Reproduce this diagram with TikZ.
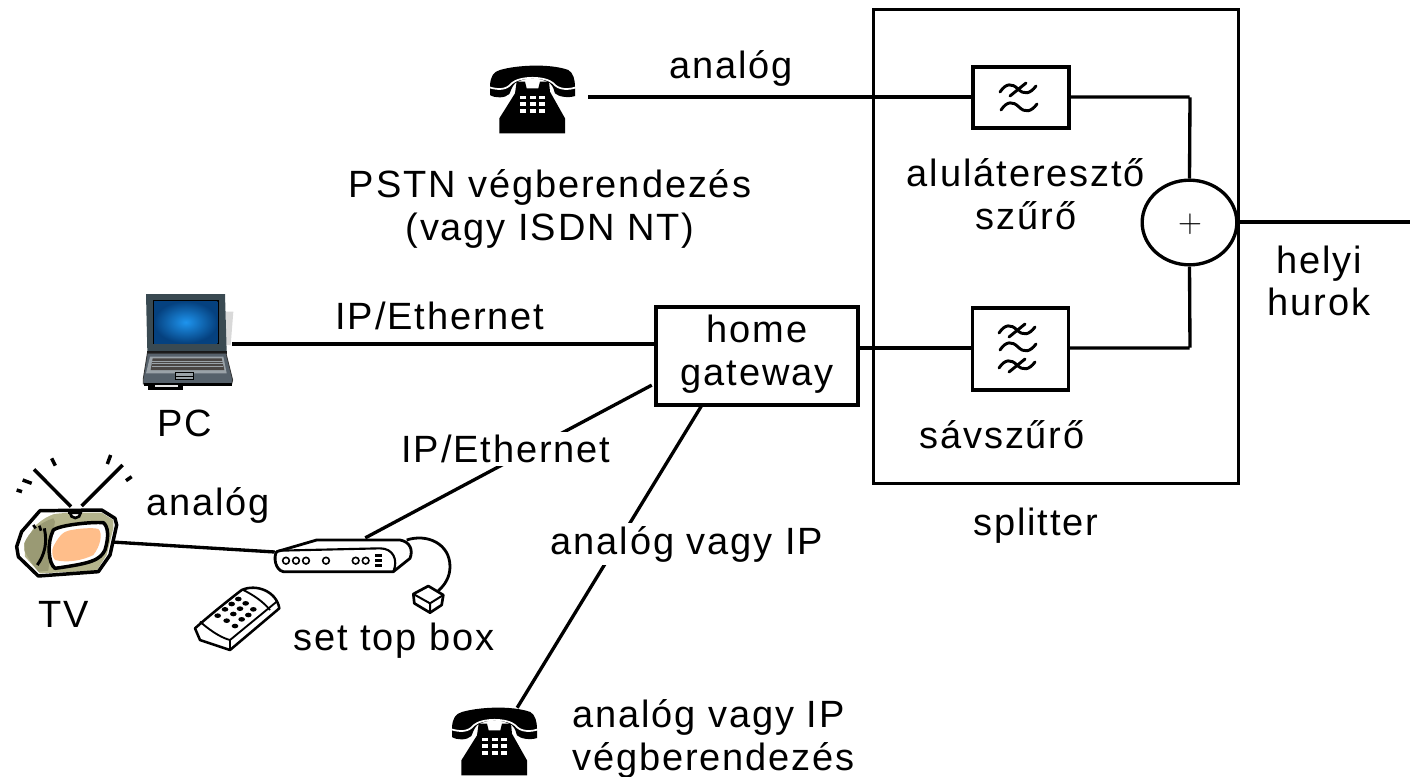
\documentclass[tikz,border=0pt]{standalone}
\usepackage{fontspec}
\usetikzlibrary{shapes.geometric}
\setmainfont[LetterSpace=5]{Liberation Sans}
\definecolor{tvolive}{HTML}{B4B48C}
\definecolor{tvpanel}{HTML}{9A9A74}
\definecolor{tvorange}{HTML}{FFBE8A}
\definecolor{lidcol}{HTML}{3A4A52}
\definecolor{basecol}{HTML}{56616B}
\definecolor{kbcol}{HTML}{9AA2A8}
\definecolor{keycol}{HTML}{4A4644}
\definecolor{scrin}{HTML}{1E94EE}
\definecolor{scrout}{HTML}{05417F}
\tikzset{
  lbl/.style={font=\fontsize{28.5}{32}\selectfont,align=center,inner sep=0pt,text=black},
  maskd/.style={lbl,fill=white,inner xsep=3pt,inner ysep=2pt},
  wire/.style={draw=black,line width=2.5pt},
  frame/.style={draw=black,line width=2.5pt,fill=white,inner sep=0pt},
  anchorpt/.style={inner sep=0pt,minimum size=0pt},
  phoneicon/.pic={
    \begin{scope}[x=0.25pt,y=-0.25pt]
    \fill[black] (140,95)--(165,95)--(170,115)--(205,115)--(210,95)--(237,95)--(240,125)--(285,205)--(285,250)--(88,250)--(88,205)--(135,130)--cycle;
    \foreach \bx in {150,180,208}\foreach \by in {137,157,177}{\fill[white] (\bx,\by) rectangle ++(17,11);}
    \fill[black] (60,105) .. controls (62,80) and (70,65) .. (90,60) .. controls (140,45) and (240,40) .. (295,60) .. controls (310,68) and (315,90) .. (315,110) -- (315,138) .. controls (295,145) and (265,140) .. (255,130) .. controls (252,120) and (250,110) .. (240,100) .. controls (210,80) and (165,80) .. (135,100) .. controls (125,110) and (122,125) .. (118,132) .. controls (105,145) and (75,145) .. (60,135) -- cycle;
    \draw[white,line width=1.3pt] (58,112) .. controls (85,120) and (110,120) .. (125,100) .. controls (150,78) and (225,78) .. (250,100) .. controls (265,120) and (295,120) .. (318,112);
    \end{scope}
  },
  filterwave/.pic={
    \draw[black,line width=2.2pt,line cap=round] (-18,3) .. controls (-12,-6) and (-6,-6) .. (0,0) .. controls (6,6) and (12,5) .. (18,-3);
  },
  filtercross/.pic={
    \draw[black,line width=2.2pt,line cap=round] (-18,3) .. controls (-12,-6) and (-6,-6) .. (0,0) .. controls (6,6) and (12,5) .. (18,-3);
    \draw[black,line width=2.2pt,line cap=round] (-8,7) -- (8,-6);
  }
}
\begin{document}
\begin{tikzpicture}[x=0.75pt,y=-0.75pt]
\useasboundingbox (0,0) rectangle (1410,776);
\fill[white] (0,0) rectangle (1410,776);
% splitter
\node[frame,fill=none,minimum width=273.75pt,minimum height=355.5pt,anchor=north west] (splitter) at (871.5,7.5) {};
\node[frame,minimum width=72pt,minimum height=45.75pt] (lp) at (1021,97.5) {};
\node[frame,minimum width=72pt,minimum height=61.5pt] (bp) at (1020.5,349) {};
\node[frame,ellipse,minimum width=71pt,minimum height=63.5pt] (sum) at (1189.5,222.5) {};
\node[lbl,font=\fontsize{24}{24}\selectfont] (plus) at (1190,224) {$+$};
\node[frame,minimum width=151.5pt,minimum height=73.5pt,align=center] (gw) at (757,356) {};
% icon anchors
\node[anchorpt] (ph1) at (588,97) {};
\node[anchorpt] (pc) at (232,344) {};
\node[anchorpt] (tv) at (112,542) {};
\node[anchorpt] (stbl) at (275,552) {};
\node[anchorpt] (stbt) at (365,538) {};
\node[anchorpt] (ph2) at (517,708) {};
\node[anchorpt] (gwa) at (652,385) {};
\node[anchorpt] (gwb) at (702,405) {};
\node[anchorpt] (loop) at (1410,222) {};
\node[anchorpt] (cornerlp) at (1190,97) {};
\node[anchorpt] (cornerbp) at (1190,348) {};
% wires
\draw[wire] (ph1) -- (ph1-|lp.west);
\draw[wire] (lp.east|-cornerlp) -- (cornerlp) -- (sum.north);
\draw[wire] (bp.east|-cornerbp) -- (cornerbp) -- (sum.south);
\draw[wire] (gw.east|-cornerbp) -- (bp.west|-cornerbp);
\draw[wire] (sum.east|-loop) -- (loop);
\draw[wire] (pc) -- (pc-|gw.west);
\draw[wire] (gwa) -- (stbt);
\draw[wire] (gwb) -- (ph2);
\draw[wire] (tv) -- (stbl);
% labels
\node[lbl] (t1) at (731,68) {analóg};
\node[lbl] (t2) at (550,209) {PSTN végberendezés\\(vagy ISDN NT)};
\node[lbl] (t3) at (440,316) {IP/Ethernet};
\node[lbl] (t4) at (757,354) {home\\gateway};
\node[lbl] (t5) at (1026,194) {aluláteresztő\\szűrő};
\node[lbl] (t6) at (1002,435) {sávszűrő};
\node[lbl] (t7) at (1036,526) {splitter};
\node[lbl] (t8) at (1319,281) {helyi\\hurok};
\node[lbl] (t9) at (185,423) {PC};
\node[maskd] (t10) at (506,449) {IP/Ethernet};
\node[lbl] (t11) at (208,505) {analóg};
\node[maskd] (t12) at (687,544) {analóg vagy IP};
\node[lbl] (t13) at (64,614) {TV};
\node[lbl] (t14) at (394,641) {set top box};
\node[lbl,align=left,anchor=west] (t15) at (572,739) {analóg vagy IP\\végberendezés};
% filter symbols
\pic at (1018,89) {filtercross};
\pic at (1019,107) {filterwave};
\pic at (1017,330) {filtercross};
\pic at (1018,347) {filterwave};
\pic at (1017,365) {filtercross};
% phones
\pic at (470,50) {phoneicon};
\pic at (432,692) {phoneicon};
% laptop
\begin{scope}[shift={(120,280)},x=0.25pt,y=-0.25pt]
\fill[black!15] (318,95)--(340,95)--(332,195)--(318,195)--cycle;
\fill[lidcol] (78,42)--(315,42)--(320,215)--(82,215)--cycle;
\fill[black] (98,60) rectangle (297,193);
\shade[inner color=scrin,outer color=scrout] (102,64) rectangle (292,189);
\fill[black!90] (80,213)--(320,213)--(320,222)--(80,222)--cycle;
\fill[basecol,draw=black!80,line width=0.6pt] (82,220)--(318,220)--(338,300)--(335,312)--(70,312)--(70,295)--cycle;
\fill[kbcol] (90,230)--(310,230)--(320,280)--(78,280)--cycle;
\fill[keycol] (98,235)--(305,235)--(313,270)--(92,270)--cycle;
\foreach \ky in {243,251,259}{\draw[kbcol,line width=0.4pt] (96,\ky)--(309,\ky);}
\fill[kbcol,draw=black,line width=0.7pt] (165,277) rectangle (220,298);
\draw[black,line width=0.5pt] (165,288) -- (220,288);
\fill[black] (72,308)--(335,308)--(335,318)--(72,318)--cycle;
\fill[black] (85,318) rectangle (190,330);
\fill[black!10] (105,316) rectangle (175,322);
\end{scope}
% TV antennas
\begin{scope}[shift={(0,440)},x=0.25pt,y=-0.25pt]
\draw[black,line width=2.6pt] (102,88)--(213,200);
\draw[black,line width=2.6pt] (245,198)--(368,75);
\draw[black,line width=2.6pt] (68,120)--(95,130);
\draw[black,line width=2.6pt] (50,150)--(66,155);
\draw[black,line width=2.6pt] (155,55)--(166,77);
\draw[black,line width=2.6pt] (332,45)--(322,72);
\draw[black,line width=2.6pt] (395,110)--(378,122);
\end{scope}
% TV body
\begin{scope}[shift={(5,500)},x=0.25pt,y=-0.25pt]
\fill[tvolive] (58,130)--(110,45)--(190,38)--(290,38)--(325,60)--(325,85)--(305,165)--(275,212)--(105,220)--(60,170)--cycle;
\fill[white] (48,115) .. controls (60,85) and (85,50) .. (112,38) -- (160,38) .. controls (110,50) and (70,90) .. (55,130) -- cycle;
\fill[tvpanel] (58,130) .. controls (70,95) and (110,65) .. (145,55) -- (150,65) .. controls (140,120) and (135,170) .. (130,212) -- (100,215) .. controls (85,195) and (65,170) .. (58,150) -- cycle;
\draw[black,line width=2.6pt,line join=round] (105,32)--(290,30)--(330,55)--(335,75)--(315,165)--(280,215)--(100,228)--(40,170)--(35,140)--(50,95)--cycle;
\fill[white,draw=black,line width=2pt] (195,38) arc (180:0:16) -- cycle;
\fill[black] (190,33) rectangle (232,43);
\fill[white,draw=black,line width=2.6pt,line join=round] (145,90) .. controls (165,75) and (260,65) .. (295,68) .. controls (310,80) and (312,110) .. (300,150) .. controls (285,180) and (260,190) .. (150,205) .. controls (130,190) and (125,130) .. (145,90) -- cycle;
\fill[tvorange] (145,140) .. controls (160,110) and (175,95) .. (190,92) .. controls (220,85) and (265,82) .. (280,87) .. controls (295,100) and (285,140) .. (265,165) .. controls (235,180) and (190,190) .. (150,180) .. controls (140,170) and (140,150) .. (145,140) -- cycle;
\draw[black,line width=2.2pt] (118,85) .. controls (128,130) and (118,165) .. (97,195);
\draw[black,line width=2pt] (85,75)--(92,85) (103,77)--(108,92);
\end{scope}
% STB
\begin{scope}[shift={(180,520)},x=0.25pt,y=-0.25pt]
\draw[black,line width=2.1pt] (680,60) .. controls (740,40) and (810,70) .. (810,140) .. controls (810,170) and (795,195) .. (775,212);
\draw[black,line width=2.1pt,fill=white,line join=round] (290,95) -- (410,60) -- (660,60) .. controls (690,65) and (700,90) .. (690,115) -- (640,155) -- (310,155) .. controls (285,150) and (280,110) .. (290,95) -- cycle;
\draw[black,line width=1.6pt] (295,92) -- (600,85) .. controls (640,85) and (655,120) .. (640,155);
\foreach \cx in {318,348,378,438,527,557}{\draw[black,line width=1.2pt] (\cx,122) circle (10);}
\foreach \cy in {105,120,135}{\fill[black] (585,\cy-3) rectangle (606,\cy+7);}
\draw[black,line width=2pt,fill=white,line join=round] (700,222)--(745,198)--(790,225)--(785,255)--(750,278)--(703,250)--cycle;
\draw[black,line width=1.5pt] (700,222)--(750,250)--(790,225) (750,250)--(750,278);
% remote
\draw[black,line width=1.9pt,fill=white,line join=round] (45,325) .. controls (90,285) and (140,245) .. (185,210) .. controls (230,190) and (290,215) .. (298,265) -- (150,390) -- (60,360) -- cycle;
\draw[black,line width=1.4pt] (60,305) .. controls (100,340) and (130,355) .. (150,360) -- (290,245);
\draw[black,line width=1.4pt] (150,360) -- (150,390);
\draw[black,line width=1.4pt] (190,210) .. controls (220,225) and (250,245) .. (270,270);
\foreach \kx/\ky in {175/237,155/252,197/250,135/268,180/266,220/268,113/287,160/282,205/285,140/302,185/298,165/318}{\fill[black] (\kx,\ky) ellipse (10 and 7);}
\end{scope}
\end{tikzpicture}
\end{document}
